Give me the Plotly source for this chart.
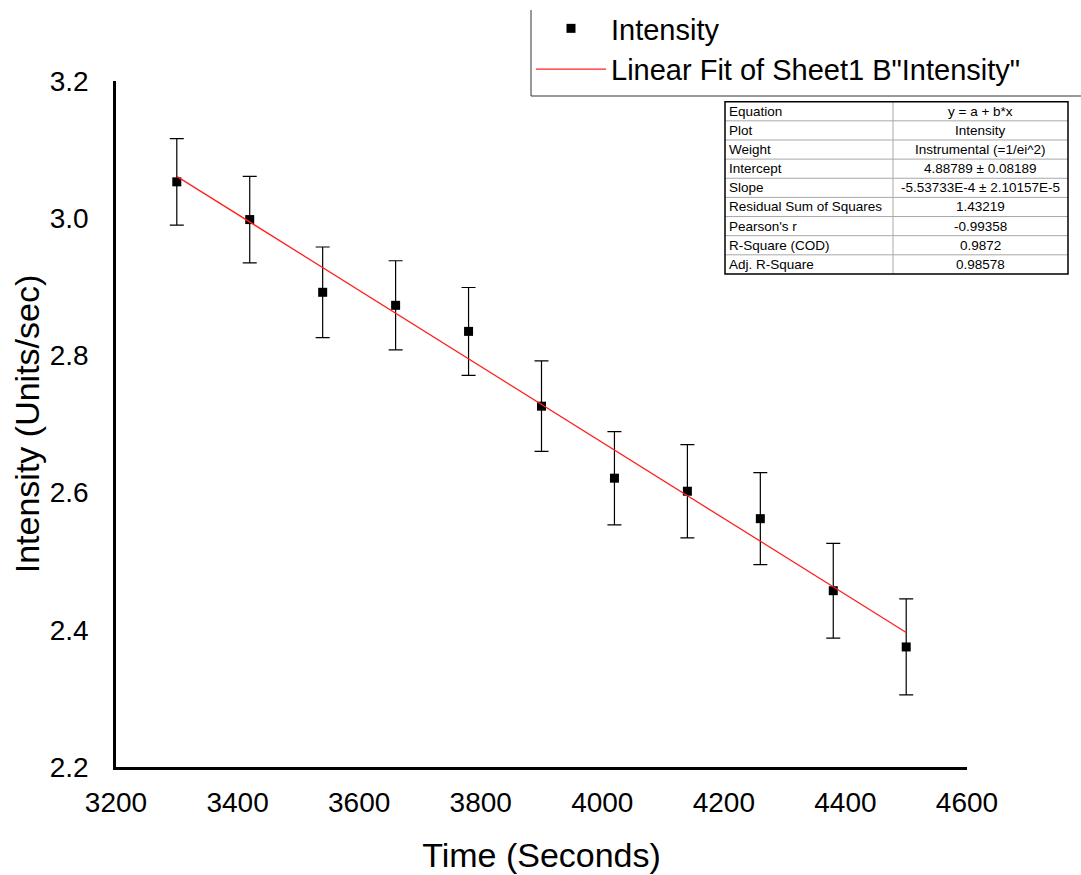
import plotly.graph_objects as go

# --- данные ---
time_s = [3300, 3420, 3540, 3660, 3780, 3900, 4020, 4140, 4260, 4380, 4500]
intensity = [3.053, 2.998, 2.892, 2.873, 2.835, 2.726, 2.621, 2.602, 2.562, 2.457, 2.375]
intensity_err = [0.063, 0.063, 0.066, 0.065, 0.064, 0.066, 0.068, 0.068, 0.067, 0.069, 0.070]

# концы линии подгонки
fit_x = [3300, 4500]
fit_y = [3.061, 2.396]

# таблица результатов подгонки
param_names = ["Equation", "Plot", "Weight", "Intercept", "Slope", "Residual Sum of Squares",
               "Pearson's r", "R-Square (COD)", "Adj. R-Square"]
param_values = ["y = a + b*x", "Intensity", "Instrumental (=1/ei^2)", "4.88789 ± 0.08189",
                "-5.53733E-4 ± 2.10157E-5", "1.43219", "-0.99358", "0.9872", "0.98578"]

y_ticks = [2.2, 2.4, 2.6, 2.8, 3.0, 3.2]

FONT = "Liberation Sans, Arial, sans-serif"

# размеры страницы и поля (в пикселях)
W, H = 1081, 875
ML, MR, MT, MB = 116, 10, 10, 108


def px(x):  # пиксель -> paper по x
    return (x - ML) / (W - ML - MR)


def py(y):  # пиксель -> paper по y
    return (H - MB - y) / (H - MT - MB)


fig = go.Figure()

fig.add_trace(go.Scatter(
    x=time_s, y=intensity, mode="markers", name="Intensity",
    marker=dict(symbol="square", size=9, color="black"),
    error_y=dict(type="data", array=intensity_err, color="black", thickness=1.2, width=7),
))

fig.add_trace(go.Scatter(
    x=fit_x, y=fit_y, mode="lines", name='Linear Fit of Sheet1 B"Intensity"',
    line=dict(color="#ff2020", width=1.3),
))

# --- таблица параметров (рисуем линиями и подписями) ---
T_LEFT, T_RIGHT, T_DIV, T_TOP, ROW_H = 725, 1068, 893, 101.7, 19.14
n_rows = len(param_names)
T_BOTTOM = T_TOP + n_rows * ROW_H

shapes = []
annotations = []
for i, (name, val) in enumerate(zip(param_names, param_values)):
    yc = T_TOP + (i + 0.5) * ROW_H
    annotations.append(dict(x=px(T_LEFT + 2), y=py(yc), xref="paper", yref="paper",
                            text=name, showarrow=False, xanchor="left", yanchor="middle",
                            font=dict(size=13.5, color="black")))
    annotations.append(dict(x=px((T_DIV + T_RIGHT) / 2), y=py(yc), xref="paper", yref="paper",
                            text=val, showarrow=False, xanchor="center", yanchor="middle",
                            font=dict(size=13.5, color="black")))
    if i > 0:
        yl = T_TOP + i * ROW_H
        shapes.append(dict(type="line", xref="paper", yref="paper",
                           x0=px(T_LEFT), x1=px(T_RIGHT), y0=py(yl), y1=py(yl),
                           line=dict(color="#a8a8a8", width=1)))
shapes.append(dict(type="line", xref="paper", yref="paper",
                   x0=px(T_DIV), x1=px(T_DIV), y0=py(T_TOP), y1=py(T_BOTTOM),
                   line=dict(color="#a8a8a8", width=1)))
shapes.append(dict(type="rect", xref="paper", yref="paper",
                   x0=px(T_LEFT), x1=px(T_RIGHT), y0=py(T_BOTTOM), y1=py(T_TOP),
                   line=dict(color="black", width=1.5)))

# рамка легенды (видны только левая и нижняя стороны)
shapes.append(dict(type="line", xref="paper", yref="paper",
                   x0=px(531), x1=px(531), y0=py(96), y1=py(10),
                   line=dict(color="#333333", width=1)))
shapes.append(dict(type="line", xref="paper", yref="paper",
                   x0=px(531), x1=px(1085), y0=py(96), y1=py(96),
                   line=dict(color="#333333", width=1)))

fig.update_layout(
    width=W, height=H,
    margin=dict(l=ML, r=MR, t=MT, b=MB, autoexpand=False),
    paper_bgcolor="white", plot_bgcolor="white",
    font=dict(family=FONT, color="black"),
    xaxis=dict(domain=[0, px(967)], range=[3200, 4600], dtick=200, tick0=3200,
               showline=True, linecolor="black", linewidth=2.5, ticks="",
               showgrid=False, zeroline=False, ticklabelstandoff=9,
               tickfont=dict(size=28),
               title=dict(text="Time (Seconds)", font=dict(size=34), standoff=26)),
    yaxis=dict(domain=[0, py(81)], range=[2.2, 3.2], tickvals=y_ticks, tickformat=".1f",
               showline=True, linecolor="black", linewidth=2.5, ticks="",
               showgrid=False, zeroline=False, ticklabelstandoff=19,
               tickfont=dict(size=28),
               title=dict(text="Intensity (Units/sec)", font=dict(size=34), standoff=0)),
    showlegend=True,
    legend=dict(x=px(531), y=py(3), xanchor="left", yanchor="top",
                bgcolor="rgba(0,0,0,0)", borderwidth=0, itemwidth=70,
                font=dict(size=29), tracegroupgap=0),
    shapes=shapes,
    annotations=annotations,
)

fig.write_html("out.html", config={"displayModeBar": False},
               post_script="document.body.style.margin='0';")
